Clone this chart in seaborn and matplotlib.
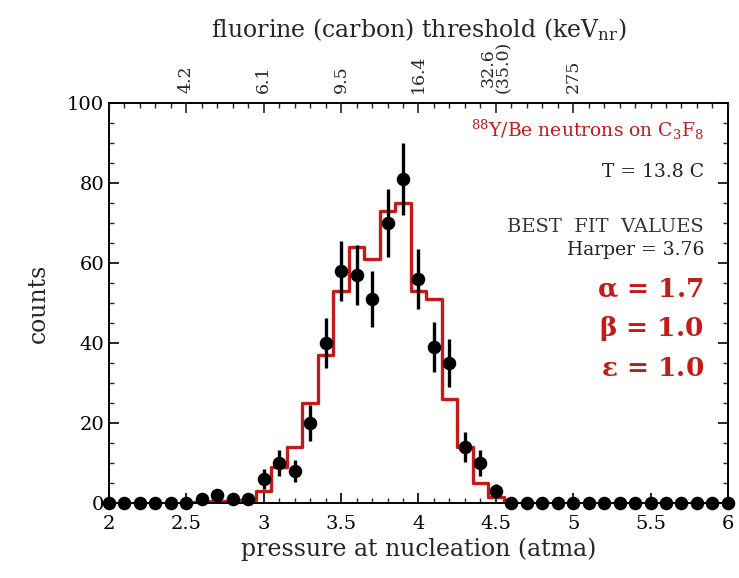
import numpy as np
import pandas as pd
import matplotlib
matplotlib.use("Agg")
import matplotlib.pyplot as plt
import seaborn as sns
from matplotlib.ticker import MultipleLocator

# ---- data ----
pressure = [2.0, 2.1, 2.2, 2.3, 2.4, 2.5, 2.6, 2.7, 2.8, 2.9,
            3.0, 3.1, 3.2, 3.3, 3.4, 3.5, 3.6, 3.7, 3.8, 3.9,
            4.0, 4.1, 4.2, 4.3, 4.4, 4.5, 4.6, 4.7, 4.8, 4.9,
            5.0, 5.1, 5.2, 5.3, 5.4, 5.5, 5.6, 5.7, 5.8, 5.9, 6.0]
counts = [0, 0, 0, 0, 0, 0, 1, 2, 1, 1,
          6, 10, 8, 20, 40, 58, 57, 51, 70, 81,
          56, 39, 35, 14, 10, 3, 0, 0, 0, 0,
          0, 0, 0, 0, 0, 0, 0, 0, 0, 0, 0]
count_err = [0, 0, 0, 0, 0, 0, 1, 1.4, 1, 1,
             2.4, 3.2, 2.8, 4.5, 6.3, 7.6, 7.5, 7.1, 8.4, 9.0,
             7.5, 6.2, 5.9, 3.7, 3.2, 1.7, 0, 0, 0, 0,
             0, 0, 0, 0, 0, 0, 0, 0, 0, 0, 0]

fit_pressure = [2.5, 2.6, 2.7, 2.8, 2.9, 3.0, 3.1, 3.2, 3.3, 3.4, 3.5,
                3.6, 3.7, 3.8, 3.9, 4.0, 4.1, 4.2, 4.3, 4.4, 4.5, 4.6]
fit_counts = [0, 0.3, 0.4, 0.6, 0.8, 3, 9, 14, 25, 37, 53,
              64, 61, 73, 75, 53, 51, 26, 14, 5, 1.5, 0]

top_tick_pos = [2.5, 3.0, 3.5, 4.0, 4.5, 5.0]
top_tick_labels = ["4.2", "6.1", "9.5", "16.4", "32.6\n(35.0)", "275"]

bottom_ticks = [2, 2.5, 3, 3.5, 4, 4.5, 5, 5.5, 6]
bottom_labels = ["2", "2.5", "3", "3.5", "4", "4.5", "5", "5.5", "6"]
y_ticks = [0, 20, 40, 60, 80, 100]

RED = "#c41a1a"

sns.set_theme(style="ticks")
plt.rcParams["font.family"] = ["DejaVu Serif"]
plt.rcParams["mathtext.fontset"] = "dejavuserif"

fig = plt.figure(figsize=(7.39, 5.78), dpi=100)
ax = fig.add_axes([0.1475, 0.1298, 0.8375, 0.692])

df_pts = pd.DataFrame({"p": pressure, "c": counts, "e": count_err})
df_fit = pd.DataFrame({"p": fit_pressure, "c": fit_counts})

sns.lineplot(data=df_fit, x="p", y="c", ax=ax, color=RED, lw=2.4,
             drawstyle="steps-mid", estimator=None, sort=True, zorder=2)
ax.errorbar(df_pts["p"], df_pts["c"], yerr=df_pts["e"], fmt="none",
            ecolor="black", elinewidth=2.4, capsize=0, zorder=3)
sns.scatterplot(data=df_pts, x="p", y="c", ax=ax, color="black", s=95,
                edgecolor="black", linewidth=0, zorder=4, clip_on=False)

ax.set_xlim(2, 6)
ax.set_ylim(0, 100)
ax.set_xticks(bottom_ticks)
ax.set_xticklabels(bottom_labels)
ax.set_yticks(y_ticks)
ax.xaxis.set_minor_locator(MultipleLocator(0.1))
ax.yaxis.set_minor_locator(MultipleLocator(5))
ax.tick_params(axis="both", which="major", direction="in", length=7, width=1.2,
               labelsize=14, colors="black", right=True, top=False)
ax.tick_params(axis="both", which="minor", direction="in", length=3.5, width=1.0,
               right=True, top=False)
ax.tick_params(axis="x", which="major", pad=9)
ax.set_xlabel("pressure at nucleation (atma)", fontsize=17, labelpad=3)
ax.set_ylabel("counts", fontsize=17, labelpad=12)
for sp in ax.spines.values():
    sp.set_linewidth(1.4)
    sp.set_color("black")

# top axis
ax2 = ax.twiny()
ax2.set_xlim(2, 6)
ax2.set_xticks(top_tick_pos)
ax2.set_xticklabels(top_tick_labels, rotation=90, fontsize=12.5, linespacing=0.85)
ax2.xaxis.set_minor_locator(MultipleLocator(0.1))
ax2.tick_params(axis="x", which="major", direction="in", length=7, width=1.2, pad=7)
ax2.tick_params(axis="x", which="minor", direction="in", length=3.5, width=1.0)
ax2.set_xlabel(r"fluorine (carbon) threshold (keV$_{\rm nr}$)", fontsize=17, labelpad=3)
for sp in ax2.spines.values():
    sp.set_visible(False)

# annotations
xr = 5.845
ax.text(xr, 93.2, r"$^{88}$Y/Be neutrons on C$_3$F$_8$", color=RED, fontsize=13.5,
        ha="right", va="center")
ax.text(xr, 82.7, "T = 13.8 C", color="#222222", fontsize=13.5, ha="right", va="center")
ax.text(xr, 69.0, "BEST  FIT  VALUES", color="#333333", fontsize=14, ha="right", va="center")
ax.text(xr, 63.2, "Harper = 3.76", color="#222222", fontsize=13.5, ha="right", va="center")
ax.text(xr, 53.2, r"$\mathbf{\alpha}$ = 1.7", color=RED, fontsize=19, fontweight="bold",
        ha="right", va="center")
ax.text(xr, 43.5, r"$\mathbf{\beta}$ = 1.0", color=RED, fontsize=19, fontweight="bold",
        ha="right", va="center")
ax.text(xr, 33.7, r"$\mathbf{\varepsilon}$ = 1.0", color=RED, fontsize=19, fontweight="bold",
        ha="right", va="center")

fig.savefig("out.png", dpi=100)
